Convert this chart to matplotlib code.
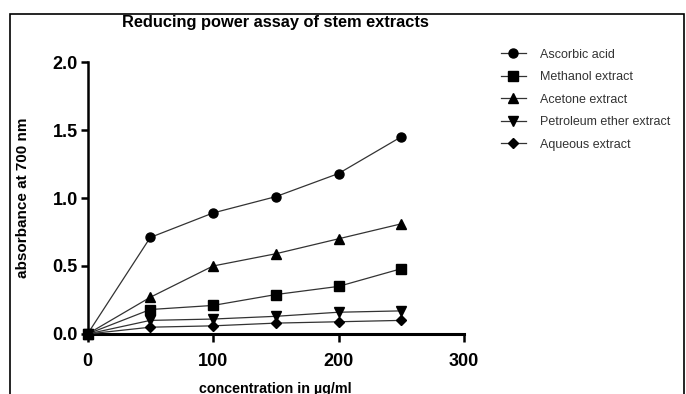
"""
Reducing power assay of stem extracts
"""

import matplotlib
matplotlib.use('Agg')
import matplotlib.pyplot as plt
from matplotlib.patches import Rectangle

#---------------------------------------------------------------------------------------------------
# Input data
#---------------------------------------------------------------------------------------------------

conc = [0, 50, 100, 150, 200, 250]

ascorbic = [0, 0.71, 0.89, 1.01, 1.18, 1.45]
methanol = [0, 0.18, 0.21, 0.29, 0.35, 0.48]
acetone = [0, 0.27, 0.50, 0.59, 0.70, 0.81]
petroleum = [0, 0.10, 0.11, 0.13, 0.16, 0.17]
aqueous = [0, 0.05, 0.06, 0.08, 0.09, 0.10]

labels = ['Ascorbic acid', 'Methanol extract', 'Acetone extract',
          'Petroleum ether extract', 'Aqueous extract']
markers = ['o', 's', '^', 'v', 'D']

xticks = [0, 100, 200, 300]
yticks = [0.0, 0.5, 1.0, 1.5, 2.0]

#---------------------------------------------------------------------------------------------------
# Plot
#---------------------------------------------------------------------------------------------------

narrow = ['Liberation Sans Narrow', 'Liberation Sans', 'DejaVu Sans']
plt.rcParams['font.family'] = ['Liberation Sans', 'DejaVu Sans']

fig = plt.figure(figsize=(6.86, 3.94), dpi=100)
ax = fig.add_axes([0.1276, 0.1523, 0.6764 - 0.1276, 0.8426 - 0.1523])

# outer frame of the original graphic
fig.patches.append(Rectangle((10 / 686, -0.05), (684 - 10) / 686, 1.05 - 14 / 394,
                             transform=fig.transFigure, fill=False, ec='k', lw=1.2))

series = [ascorbic, methanol, acetone, petroleum, aqueous]
for ys, m, lab in zip(series, markers, labels):
    ms = 5 if m == 'D' else 6.5
    ax.plot(conc, ys, marker=m, ms=ms, color='#333333', mfc='k', mec='k', lw=0.9,
            label=lab, clip_on=False, zorder=3)

ax.set_xlim(0, 300)
ax.set_ylim(0, 2.0)
ax.set_xticks(xticks)
ax.set_yticks(yticks)
ax.set_yticklabels([f'{v:.1f}' for v in yticks])
for s in ['top', 'right']:
    ax.spines[s].set_visible(False)
ax.spines['left'].set_linewidth(1.8)
ax.spines['bottom'].set_linewidth(2.2)
ax.tick_params(axis='y', direction='out', length=5, width=1.8, pad=2)
ax.tick_params(axis='x', direction='out', length=6, width=1.8, pad=8)
for t in ax.get_xticklabels() + ax.get_yticklabels():
    t.set_family(narrow)
    t.set_fontweight('bold')
    t.set_fontsize(13)

ax.set_xlabel('concentration in µg/ml', fontsize=10.3, fontweight='bold', labelpad=8)
ax.set_ylabel('absorbance at 700 nm', fontsize=11, fontweight='bold', labelpad=16)
fig.text(0.402, 0.942, 'Reducing power assay of stem extracts', ha='center', va='center',
         fontsize=11.8, fontweight='bold')

leg = ax.legend(loc='upper left', bbox_to_anchor=(0.723, 0.889), bbox_transform=fig.transFigure,
                frameon=False, fontsize=9, handlelength=2.0, labelspacing=0.84,
                handletextpad=1.15, borderaxespad=0)
for t in leg.get_texts():
    t.set_color('#333333')

plt.savefig('out.png', dpi=100)
